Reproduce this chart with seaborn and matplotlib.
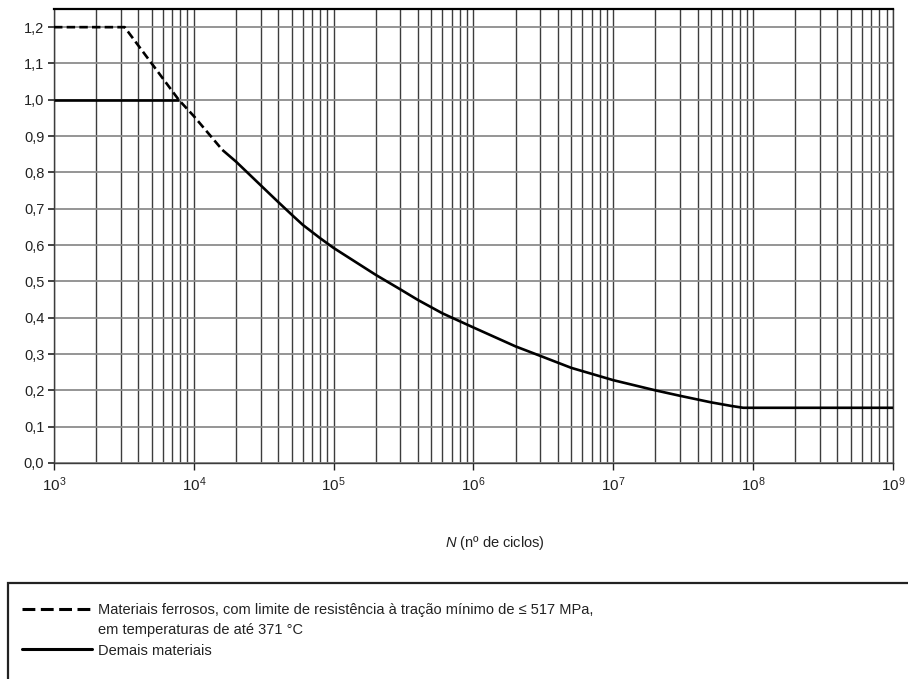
import numpy as np
import pandas as pd
import matplotlib
matplotlib.use("Agg")
import matplotlib.pyplot as plt
import matplotlib.ticker as mticker
from matplotlib.lines import Line2D
from matplotlib.patches import Rectangle
import seaborn as sns

# ---- data ----
cycles_ferrous = [1e3, 3.2e3, 7.8e3, 1e4, 1.6e4]
ratio_ferrous = [1.2, 1.2, 1.0, 0.955, 0.862]

cycles_flat_other = [1e3, 7.8e3]
ratio_flat_other = [1.0, 1.0]

cycles_curve = [1.6e4, 2e4, 3e4, 4e4, 5e4, 6e4, 8e4, 1e5, 2e5, 3e5, 4e5, 6e5,
                1e6, 2e6, 3e6, 5e6, 1e7, 2e7, 3e7, 5e7, 7e7, 8.5e7, 1e9]
ratio_curve = [0.862, 0.83, 0.765, 0.719, 0.684, 0.656, 0.619, 0.592, 0.518,
               0.478, 0.449, 0.412, 0.373, 0.321, 0.295, 0.262, 0.228, 0.2,
               0.185, 0.167, 0.157, 0.152, 0.152]

y_ticks = [0.0, 0.1, 0.2, 0.3, 0.4, 0.5, 0.6, 0.7, 0.8, 0.9, 1.0, 1.1, 1.2]
y_tick_labels = ["0,0", "0,1", "0,2", "0,3", "0,4", "0,5", "0,6", "0,7", "0,8",
                 "0,9", "1,0", "1,1", "1,2"]
x_decades = [1e3, 1e4, 1e5, 1e6, 1e7, 1e8, 1e9]
x_tick_labels = [r"$10^{3}$", r"$10^{4}$", r"$10^{5}$", r"$10^{6}$",
                 r"$10^{7}$", r"$10^{8}$", r"$10^{9}$"]

x_label = r"$N$ (nº de ciclos)"
legend_ferrous_1 = "Materiais ferrosos, com limite de resistência à tração mínimo de ≤ 517 MPa,"
legend_ferrous_2 = "em temperaturas de até 371 °C"
legend_other = "Demais materiais"

# ---- style ----
sns.set_theme(style="white")
plt.rcParams["font.family"] = ["Liberation Sans", "DejaVu Sans"]
plt.rcParams["mathtext.fontset"] = "custom"
plt.rcParams["mathtext.rm"] = "Liberation Sans"
plt.rcParams["mathtext.it"] = "Liberation Sans:italic"
plt.rcParams["mathtext.bf"] = "Liberation Sans:bold"

fig = plt.figure(figsize=(9.08, 6.79), dpi=100)
W, H = 908, 679
ax_left, ax_right, ax_top, ax_bottom = 54, 893, 9, 463
ax = fig.add_axes([ax_left / W, 1 - ax_bottom / H,
                   (ax_right - ax_left) / W, (ax_bottom - ax_top) / H])

df_f = pd.DataFrame({"N": cycles_ferrous, "S": ratio_ferrous})
df_flat = pd.DataFrame({"N": cycles_flat_other, "S": ratio_flat_other})
df_curve = pd.DataFrame({"N": cycles_curve, "S": ratio_curve})

lw = 1.9
sns.lineplot(data=df_f, x="N", y="S", ax=ax, color="black", lw=lw,
             sort=False, estimator=None)
ax.lines[-1].set_dashes((3.2, 1.6))
sns.lineplot(data=df_flat, x="N", y="S", ax=ax, color="black", lw=lw,
             sort=False, estimator=None)
sns.lineplot(data=df_curve, x="N", y="S", ax=ax, color="black", lw=lw,
             sort=False, estimator=None)
for ln in ax.lines:
    ln.set_solid_capstyle("butt")
    ln.set_dash_capstyle("butt")
    ln.set_solid_joinstyle("round")
    ln.set_zorder(5)

ax.set_xscale("log")
ax.set_xlim(1e3, 1e9)
ax.set_ylim(0, 1.25)

ax.xaxis.set_major_locator(mticker.FixedLocator(x_decades))
ax.xaxis.set_major_formatter(mticker.FixedFormatter(x_tick_labels))
ax.xaxis.set_minor_locator(mticker.LogLocator(base=10, subs=np.arange(2, 10)))
ax.xaxis.set_minor_formatter(mticker.NullFormatter())
ax.set_yticks(y_ticks)
ax.set_yticklabels(y_tick_labels)

ax.grid(which="major", axis="x", color="#3c3c3c", lw=1.0)
ax.grid(which="minor", axis="x", color="#3c3c3c", lw=1.0)
ax.grid(which="major", axis="y", color="#8c8c8c", lw=1.3)
ax.set_axisbelow(True)

ax.tick_params(axis="y", which="major", direction="out", length=4, width=1.2,
               color="#222222", left=True, labelsize=10.5, pad=3,
               labelcolor="#222222")
ax.tick_params(axis="x", which="major", direction="out", length=5, width=1.0,
               color="#222222", bottom=True, labelsize=11, pad=4,
               labelcolor="#222222")
ax.tick_params(axis="x", which="minor", length=0)

for side in ["left", "bottom", "right"]:
    ax.spines[side].set_color("#3c3c3c")
    ax.spines[side].set_linewidth(1.0)
ax.spines["top"].set_color("black")
ax.spines["top"].set_linewidth(1.6)

ax.set_ylabel("")
ax.set_xlabel(x_label, fontsize=10.5, color="#222222")
ax.xaxis.set_label_coords((495 - ax_left) / (ax_right - ax_left),
                          -(543 - ax_bottom) / (ax_bottom - ax_top))
ax.xaxis.label.set_va("center")

# ---- legend box ----
box = Rectangle((8 / W, -0.1), 1.2, 1 - 583 / H + 0.1, transform=fig.transFigure,
                fill=False, edgecolor="#222222", lw=1.6, clip_on=False)
fig.add_artist(box)

handles = [
    Line2D([], [], color="black", lw=2.2, dashes=(4.2, 1.8)),
    Line2D([], [], color="none", lw=0),
    Line2D([], [], color="black", lw=2.2),
]
labels = [legend_ferrous_1, legend_ferrous_2, legend_other]
leg = fig.legend(handles, labels, loc="upper left",
                 bbox_to_anchor=(22 / W, 1 - 603 / H), frameon=False,
                 fontsize=10.5, handlelength=4.8, handletextpad=0.38,
                 labelspacing=0.43, borderaxespad=0, borderpad=0)
for t in leg.get_texts():
    t.set_color("#222222")

fig.savefig("out.png", dpi=100)
